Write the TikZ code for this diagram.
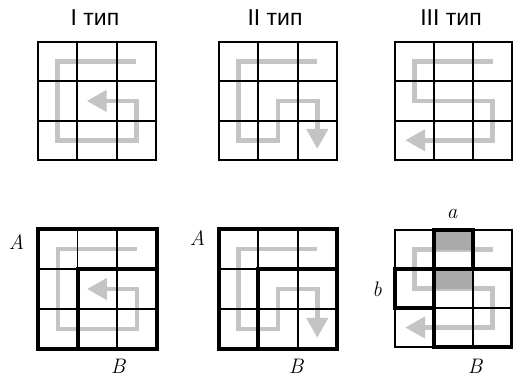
\documentclass[tikz,border=0pt]{standalone}
\usepackage{fontspec}
\newfontfamily\labfont{Liberation Sans}
\newfontfamily\letfont{Latin Modern Roman}
\usetikzlibrary{arrows.meta}
\definecolor{routegray}{RGB}{196,196,196}
\definecolor{shadegray}{RGB}{170,170,170}
\newcommand\gridlinesdraw{%
  \draw[gridthin] (0,0) rectangle (3,3);
  \foreach \i in {1,2} {\draw[gridthin] (\i,0) -- (\i,3); \draw[gridthin] (0,\i) -- (3,\i);}%
}
\newcommand\routeone{\draw[route,arr] (2.5,0.5) -- (0.5,0.5) -- (0.5,2.5) -- (2.5,2.5) -- (2.5,1.5) -- (1.24,1.5);}
\newcommand\routetwo{\draw[route,arr] (2.5,0.5) -- (0.5,0.5) -- (0.5,2.5) -- (1.5,2.5) -- (1.5,1.5) -- (2.5,1.5) -- (2.5,2.72);}
\newcommand\routethree{\draw[route,arr] (2.5,0.5) -- (0.5,0.5) -- (0.5,1.5) -- (2.5,1.5) -- (2.5,2.5) -- (0.26,2.5);}
\begin{document}
\begin{tikzpicture}[x=1pt,y=-1pt,
  gridthin/.style={line width=1.8pt, black, line join=miter},
  gridthick/.style={line width=4pt, black, line join=miter},
  route/.style={line width=4.5pt, draw=routegray, line join=miter},
  arr/.style={-{Triangle[length=20pt,width=21pt,fill=routegray,color=routegray]}},
  shadecell/.style={fill=shadegray, draw=none},
  title/.style={font=\labfont\fontsize{23}{23}\selectfont, inner sep=0pt},
  letter/.style={font=\letfont\itshape\fontsize{21}{21}\selectfont, inner sep=0pt, anchor=base}]
\useasboundingbox (0,0) rectangle (513,377);

% titles
\node[title] (t1) at (95,18) {I тип};
\node[title] (t2) at (275,18) {II тип};
\node[title] (t3) at (451,18) {III тип};

% top row
\begin{scope}[shift={(38,42)}, x=39.3pt, y=-39.3pt]
  \routeone
  \gridlinesdraw
\end{scope}
\begin{scope}[shift={(219,42)}, x=39.3pt, y=-39.3pt]
  \routetwo
  \gridlinesdraw
\end{scope}
\begin{scope}[shift={(395,42)}, x=39pt, y=-39.3pt]
  \routethree
  \gridlinesdraw
\end{scope}

% bottom row
\begin{scope}[shift={(38,229)}, x=39.5pt, y=-40pt]
  \routeone
  \gridlinesdraw
  \draw[gridthick] (0,0) rectangle (3,3);
  \draw[gridthick] (1,3) -- (1,1) -- (3,1);
\end{scope}
\begin{scope}[shift={(219,229)}, x=39.3pt, y=-40pt]
  \routetwo
  \gridlinesdraw
  \draw[gridthick] (0,0) rectangle (3,3);
  \draw[gridthick] (1,3) -- (1,1) -- (3,1);
\end{scope}
\begin{scope}[shift={(395,230)}, x=39pt, y=-39pt]
  \routethree
  \fill[shadecell] (1,0) rectangle (2,0.5);
  \fill[shadecell] (1,1) rectangle (2,1.5);
  \gridlinesdraw
  \draw[gridthick] (1,0) rectangle (2,1);
  \draw[gridthick] (0,1) rectangle (1,2);
  \draw[gridthick] (1,1) rectangle (3,3);
\end{scope}

% letters
\node[letter] (A1) at (16.5,249) {A};
\node[letter] (A2) at (197.5,245) {A};
\node[letter] (B1) at (118,373) {B};
\node[letter] (B2) at (296,373) {B};
\node[letter] (B3) at (475,373) {B};
\node[letter] (la) at (452,218) {a};
\node[letter] (lb) at (377,296.5) {b};
\end{tikzpicture}
\end{document}
